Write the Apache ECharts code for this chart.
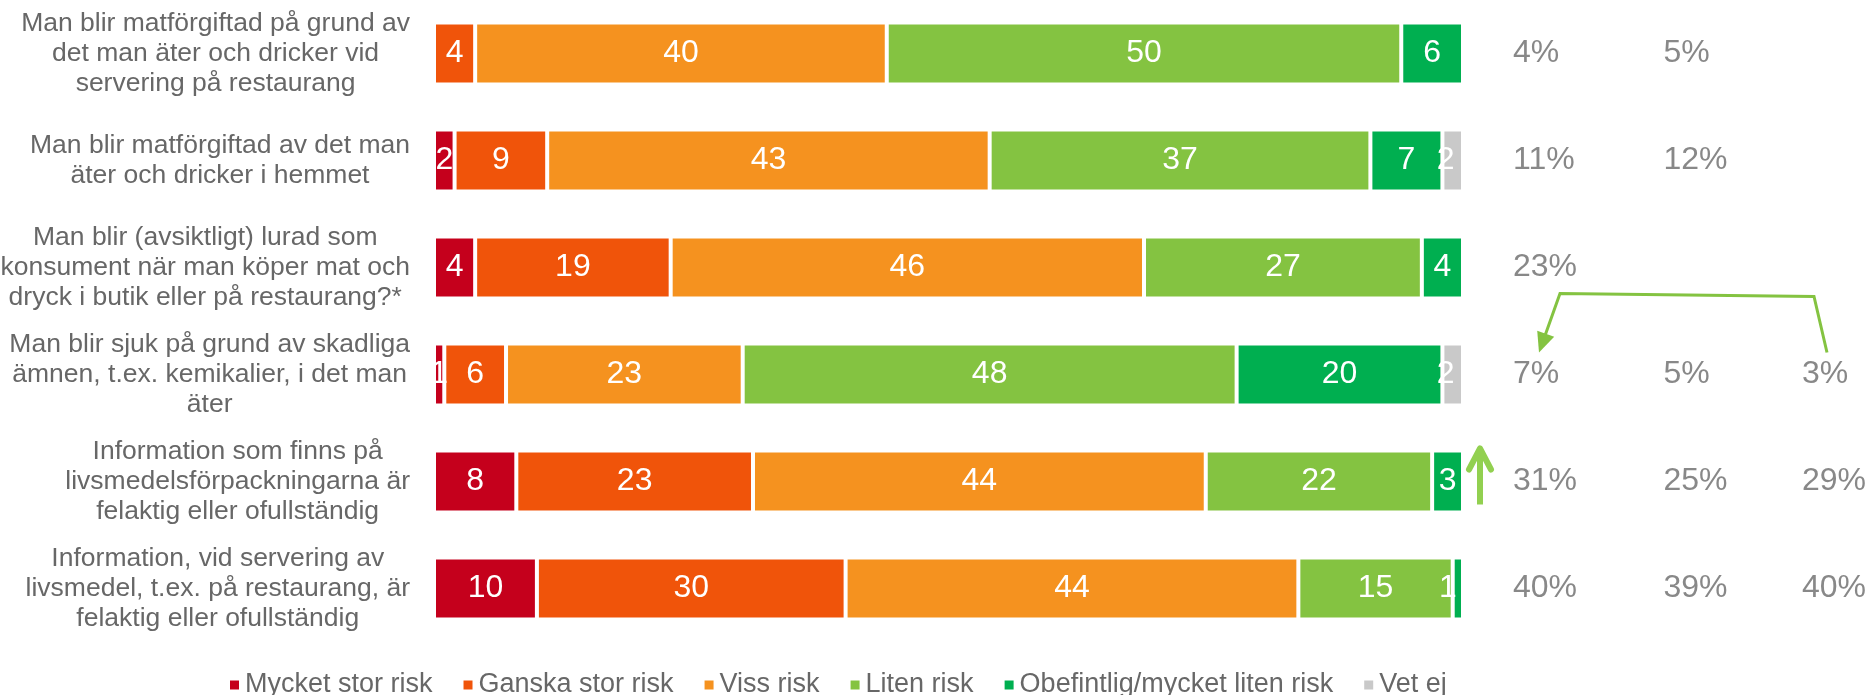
<!DOCTYPE html>
<html>
<head>
<meta charset="utf-8">
<script src="https://cdn.jsdelivr.net/npm/echarts@6/dist/echarts.min.js"></script>
<style>
html,body{margin:0;padding:0;background:#fff;}
#c{width:1870px;height:695px;}
</style>
</head>
<body>
<div id="c"></div>
<script>
// ---- data ----
const categories = [
  "Man blir matförgiftad på grund av\ndet man äter och dricker vid\nservering på restaurang",
  "Man blir matförgiftad av det man\näter och dricker i hemmet",
  "Man blir (avsiktligt) lurad som\nkonsument när man köper mat och\ndryck i butik eller på restaurang?*",
  "Man blir sjuk på grund av skadliga\nämnen, t.ex. kemikalier, i det man\näter",
  "Information som finns på\nlivsmedelsförpackningarna är\nfelaktig eller ofullständig",
  "Information, vid servering av\nlivsmedel, t.ex. på restaurang, är\nfelaktig eller ofullständig"
];
const seriesNames = ["Mycket stor risk", "Ganska stor risk", "Viss risk", "Liten risk", "Obefintlig/mycket liten risk", "Vet ej"];
const mycketStor = [0, 2, 4, 1, 8, 10];
const ganskaStor = [4, 9, 19, 6, 23, 30];
const viss = [40, 43, 46, 23, 44, 44];
const liten = [50, 37, 27, 48, 22, 15];
const obefintlig = [6, 7, 4, 20, 3, 1];
const vetEj = [0, 2, 0, 2, 0, 0];
// percentage columns on the right
const pctColumns = ["k1", "k2", "k3"];
const pctCol1 = [4, 11, 23, 7, 31, 40];
const pctCol2 = [5, 12, null, 5, 25, 39];
const pctCol3 = [null, null, null, 3, 29, 40];

// ---- styles ----
const colors = ["#C5001C", "#F0540A", "#F5921F", "#84C341", "#00AF50", "#C9C9C9"];
const FONT = "'Liberation Sans', Arial, sans-serif";
const GREY = "#676767";

const chart = echarts.init(document.getElementById('c'), null, {renderer: 'canvas'});

const valueSets = [mycketStor, ganskaStor, viss, liten, obefintlig, vetEj];
const barSeries = valueSets.map((vals, i) => ({
  name: seriesNames[i],
  type: 'bar',
  stack: 'total',
  xAxisIndex: 0,
  yAxisIndex: 0,
  barWidth: 62,
  itemStyle: {color: colors[i], borderColor: '#ffffff', borderWidth: 2},
  label: {
    show: true,
    position: 'inside',
    color: '#ffffff',
    fontSize: 32,
    fontFamily: FONT,
    offset: i === 5 ? [-7, 0] : [0, 0],
    formatter: p => (p.value ? String(p.value) : '')
  },
  emphasis: {disabled: true},
  data: vals.map(v => {
    if (v === 0) return null;
    if (i === 4 && v <= 1) return {value: v, label: {offset: [-10, 0]}};
    return v;
  })
}));

const pctCols = [pctCol1, pctCol2, pctCol3];
const pctOffsets = [[0, 0], [6, 0], [0, 0]];
const pctSeries = pctCols.map((col, ci) => ({
  type: 'scatter',
  xAxisIndex: 1,
  yAxisIndex: 1,
  symbolSize: 0,
  silent: true,
  label: {
    show: true,
    position: 'right',
    distance: 0,
    offset: pctOffsets[ci],
    color: '#6a6a6a',
    fontSize: 32,
    fontFamily: FONT,
    formatter: p => p.value[2] + '%'
  },
  data: col.map((v, ri) => v == null ? null : [ci, ri, v]).filter(d => d)
}));

const option = {
  animation: false,
  backgroundColor: '#ffffff',
  textStyle: {fontFamily: FONT},
  legend: {
    data: seriesNames,
    left: 228,
    top: 670,
    padding: 0,
    icon: 'rect',
    itemWidth: 11,
    itemHeight: 11,
    itemGap: 29,
    selectedMode: false,
    textStyle: {fontSize: 27, color: GREY, fontFamily: FONT, lineHeight: 30}
  },
  grid: [
    {left: 434, right: 407, top: 0, bottom: 53, outerBoundsMode: 'none', containLabel: false},
    {left: 1513, right: 68, top: 0, bottom: 53, outerBoundsMode: 'none', containLabel: false}
  ],
  xAxis: [
    {type: 'value', gridIndex: 0, min: 0, max: 100, show: false},
    {type: 'category', gridIndex: 1, data: pctColumns, boundaryGap: false, show: false}
  ],
  yAxis: [
    {
      type: 'category', gridIndex: 0, data: categories, inverse: true,
      axisLine: {show: false}, axisTick: {show: false}, splitLine: {show: false},
      axisLabel: {
        margin: 24,
        align: 'right',
        formatter: v => v.split('\n').map(l => '{c|' + l + '}').join('\n'),
        rich: {c: {align: 'center', fontSize: 26.5, lineHeight: 30, color: GREY, fontFamily: FONT}}
      }
    },
    {type: 'category', gridIndex: 1, data: categories, inverse: true, show: false}
  ],
  series: barSeries.concat(pctSeries)
};
chart.setOption(option);

// ---- annotation arrows, positioned from the axes ----
function px(axisIdx, pt) { return chart.convertToPixel({xAxisIndex: axisIdx, yAxisIndex: axisIdx}, pt); }
const c3 = px(1, [2, 3]);
const c1 = px(1, [0, 3]);
const start = [c3[0] + 25, c3[1] - 22];
const k1 = [c3[0] + 12, c3[1] - 78];
const k2 = [c1[0] + 47, c1[1] - 81];
const tip = [c1[0] + 26, c1[1] - 22];
const dx = tip[0] - k2[0], dy = tip[1] - k2[1];
const len = Math.sqrt(dx * dx + dy * dy);
const ux = dx / len, uy = dy / len, nx = -uy, ny = ux;
const headLen = 20, headHalf = 9;
const lineEnd = [tip[0] - ux * (headLen - 3), tip[1] - uy * (headLen - 3)];
const h1 = [tip[0] - ux * headLen + nx * headHalf, tip[1] - uy * headLen + ny * headHalf];
const h2 = [tip[0] - ux * headLen - nx * headHalf, tip[1] - uy * headLen - ny * headHalf];

const barEnd = px(0, [100, 4]);
const ax = barEnd[0] + 17;
const aTop = barEnd[1] - 35, aBot = barEnd[1] + 23;

chart.setOption({
  graphic: [
    {type: 'polyline', silent: true, shape: {points: [start, k1, k2, lineEnd]},
     style: {stroke: '#84C341', lineWidth: 3, fill: null, lineJoin: 'miter'}},
    {type: 'polygon', silent: true, shape: {points: [tip, h1, h2]},
     style: {fill: '#84C341', stroke: null}},
    {type: 'polyline', silent: true, shape: {points: [[ax, aBot], [ax, aTop + 3]]},
     style: {stroke: '#92D050', lineWidth: 6, fill: null}},
    {type: 'polyline', silent: true, shape: {points: [[ax - 11, aTop + 23], [ax, aTop + 2], [ax + 11, aTop + 23]]},
     style: {stroke: '#92D050', lineWidth: 6, fill: null, lineCap: 'round', lineJoin: 'round'}}
  ]
});
</script>
</body>
</html>
